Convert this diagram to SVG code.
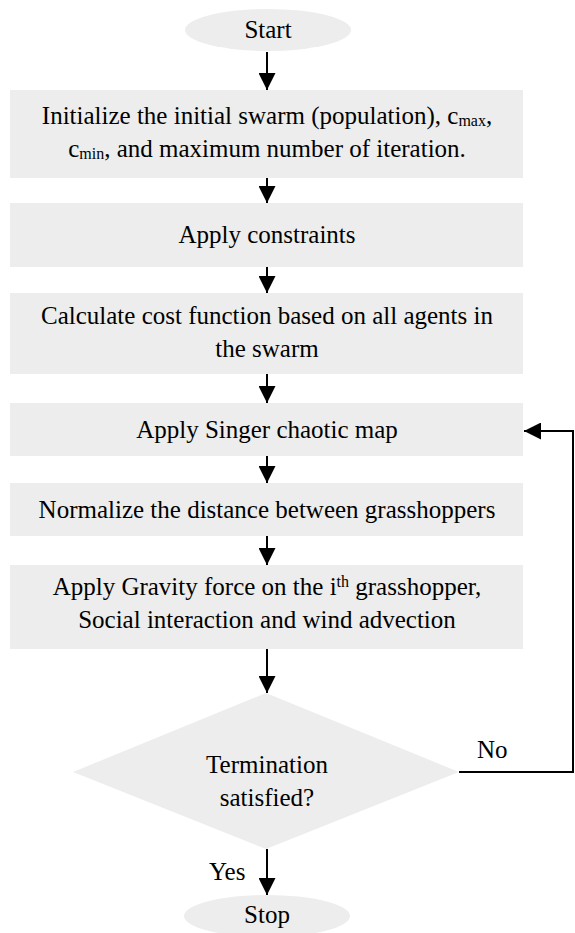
<svg xmlns="http://www.w3.org/2000/svg" width="575" height="933" viewBox="0 0 575 933">
<defs>
<marker id="ah" viewBox="0 0 10 10" refX="10" refY="5" markerWidth="17" markerHeight="17" markerUnits="userSpaceOnUse" orient="auto">
<path d="M0,0 L10,5 L0,10 Z" fill="#000"/>
</marker>
</defs>
<style>
.shape{fill:#ECEDEC;stroke:none}
text{font-family:'Liberation Serif','Times New Roman','DejaVu Serif',serif;font-size:25px;fill:#000}
.t{text-anchor:middle}
.sub{font-size:16px}
.c{fill:none;stroke:#000;stroke-width:2}
</style>
<rect width="575" height="933" fill="#fff"/>
<g id="start">
<ellipse class="shape" cx="268" cy="30" rx="83" ry="21"/>
<text class="t" x="268" y="38">Start</text>
</g>
<g id="init">
<rect class="shape" x="10" y="90" width="513" height="88"/>
<text class="t" x="267" y="124">Initialize the initial swarm (population), c<tspan class="sub" dy="2">max</tspan><tspan dy="-2">,</tspan></text>
<text class="t" x="267" y="157">c<tspan class="sub" dy="2">min</tspan><tspan dy="-2">, and maximum number of iteration.</tspan></text>
</g>
<g id="constraints">
<rect class="shape" x="10" y="203" width="513" height="64"/>
<text class="t" x="267" y="243">Apply constraints</text>
</g>
<g id="cost">
<rect class="shape" x="10" y="293" width="513" height="81"/>
<text class="t" x="267" y="324">Calculate cost function based on all agents in</text>
<text class="t" x="267" y="357">the swarm</text>
</g>
<g id="singer">
<rect class="shape" x="10" y="403" width="513" height="53"/>
<text class="t" x="267" y="438">Apply Singer chaotic map</text>
</g>
<g id="normalize">
<rect class="shape" x="10" y="483" width="513" height="53"/>
<text class="t" x="267" y="518">Normalize the distance between grasshoppers</text>
</g>
<g id="gravity">
<rect class="shape" x="10" y="565" width="513" height="84"/>
<text class="t" x="267" y="595">Apply Gravity force on the i<tspan class="sub" dy="-8">th</tspan><tspan dy="8"> grasshopper,</tspan></text>
<text class="t" x="267" y="628">Social interaction and wind advection</text>
</g>
<g id="decision">
<polygon class="shape" points="266,693 459,772 266,849 73,772"/>
<text class="t" x="267" y="773">Termination</text>
<text class="t" x="267" y="806">satisfied?</text>
</g>
<g id="stop">
<ellipse class="shape" cx="267" cy="916" rx="83" ry="21"/>
<text class="t" x="267" y="923">Stop</text>
</g>
<g id="connectors">
<line class="c" x1="267" y1="52" x2="267" y2="90" marker-end="url(#ah)"/>
<line class="c" x1="267" y1="178" x2="267" y2="203" marker-end="url(#ah)"/>
<line class="c" x1="267" y1="267" x2="267" y2="293" marker-end="url(#ah)"/>
<line class="c" x1="267" y1="374" x2="267" y2="403" marker-end="url(#ah)"/>
<line class="c" x1="267" y1="456" x2="267" y2="483" marker-end="url(#ah)"/>
<line class="c" x1="267" y1="536" x2="267" y2="565" marker-end="url(#ah)"/>
<line class="c" x1="267" y1="649" x2="267" y2="693" marker-end="url(#ah)"/>
<line class="c" x1="267" y1="849" x2="267" y2="895" marker-end="url(#ah)"/>
<polyline class="c" points="459,772 573,772 573,431 524,431" marker-end="url(#ah)"/>
<text x="477" y="758">No</text>
<text x="209" y="880">Yes</text>
</g>
</svg>
